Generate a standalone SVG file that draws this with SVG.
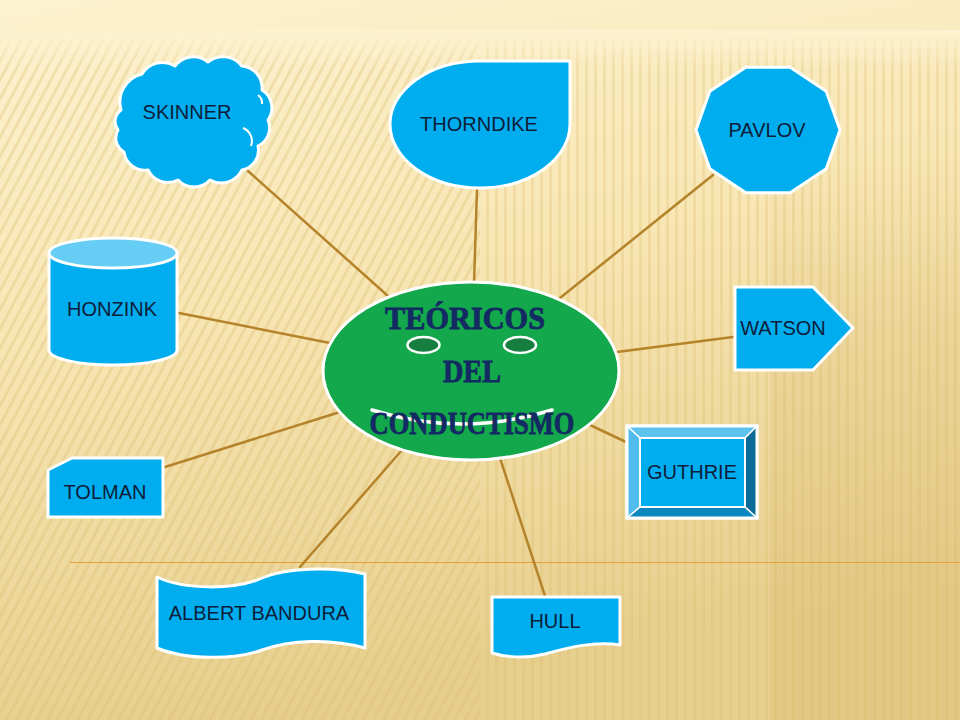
<svg xmlns="http://www.w3.org/2000/svg" width="960" height="720" viewBox="0 0 960 720">
<defs>
<linearGradient id="bg" x1="0" y1="0" x2="0.25" y2="1">
<stop offset="0" stop-color="#FDF2D0"/>
<stop offset="0.45" stop-color="#F8E6B4"/>
<stop offset="1" stop-color="#E6CE8C"/>
</linearGradient>
<pattern id="stripesL" width="9" height="9" patternUnits="userSpaceOnUse" patternTransform="rotate(28)">
<rect x="0" y="0" width="3" height="9" fill="#D9B96A" opacity="0.3"/>
</pattern>
<pattern id="stripesR" width="9" height="9" patternUnits="userSpaceOnUse">
<rect x="0" y="0" width="3" height="9" fill="#D9B96A" opacity="0.28"/>
</pattern>
<linearGradient id="fadeTop" x1="0" y1="0" x2="0" y2="1">
<stop offset="0" stop-color="#FDF2D0" stop-opacity="1"/>
<stop offset="1" stop-color="#FDF2D0" stop-opacity="0"/>
</linearGradient>
<linearGradient id="shade" x1="0" y1="0" x2="0" y2="1">
<stop offset="0" stop-color="#C9A552" stop-opacity="0"/>
<stop offset="0.3" stop-color="#C9A552" stop-opacity="0.14"/>
<stop offset="1" stop-color="#C9A552" stop-opacity="0.14"/>
</linearGradient>
<style>
.node{fill:#00AEEF;stroke:#FFFFFF;stroke-width:3;stroke-linejoin:round}
.lbl{font-family:"Liberation Sans",Arial,sans-serif;font-size:20px;fill:#0E1D3A;text-anchor:middle}
.conn{stroke:#B5832A;stroke-width:2.5;fill:none;stroke-linecap:round}
.title{font-family:"Liberation Serif","DejaVu Serif",serif;font-weight:bold;font-size:31px;fill:#142A63;stroke:#142A63;stroke-width:0.8;text-anchor:middle}
</style>
</defs>
<!-- background -->
<rect x="0" y="0" width="960" height="720" fill="url(#bg)"/>
<rect x="0" y="38" width="480" height="682" fill="url(#stripesL)"/>
<rect x="480" y="38" width="480" height="682" fill="url(#stripesR)"/>
<rect x="0" y="30" width="960" height="40" fill="url(#fadeTop)"/>
<rect x="770" y="150" width="190" height="570" fill="url(#shade)"/>
<line x1="70" y1="562.5" x2="960" y2="562.5" stroke="#E6A23A" stroke-width="1"/>

<g id="connectors">
<line class="conn" x1="248" y1="171" x2="388" y2="296"/>
<line class="conn" x1="477" y1="190" x2="474" y2="283"/>
<line class="conn" x1="713" y1="175" x2="560" y2="298"/>
<line class="conn" x1="733" y1="337" x2="617" y2="352"/>
<line class="conn" x1="626" y1="442" x2="590" y2="425"/>
<line class="conn" x1="545" y1="596" x2="500" y2="458"/>
<line class="conn" x1="300" y1="567" x2="402" y2="450"/>
<line class="conn" x1="165" y1="467" x2="340" y2="412"/>
<line class="conn" x1="179" y1="313" x2="330" y2="343"/>
</g>

<g id="center">
<ellipse cx="471" cy="371" rx="148" ry="89" fill="#12A84B" stroke="#FFFFFF" stroke-width="3"/>
<ellipse cx="423.5" cy="345" rx="16" ry="8" fill="#167E3E" stroke="#FFFFFF" stroke-width="2.5"/>
<ellipse cx="520" cy="345" rx="16" ry="8" fill="#167E3E" stroke="#FFFFFF" stroke-width="2.5"/>
<path d="M372,410 Q462,438 552,410" fill="none" stroke="#FFFFFF" stroke-width="3.5" stroke-linecap="round"/>
<text class="title" x="465" y="329" textLength="160" lengthAdjust="spacingAndGlyphs">TEÓRICOS</text>
<text class="title" x="472" y="382" textLength="58" lengthAdjust="spacingAndGlyphs">DEL</text>
<text class="title" x="472" y="434" textLength="205" lengthAdjust="spacingAndGlyphs">CONDUCTISMO</text>
</g>

<g id="skinner">
<path class="node" d="M121,110 A29,29 0 0 1 142,74 A24,24 0 0 1 175,66 A23,23 0 0 1 208,62 A24,24 0 0 1 242,66 A22,22 0 0 1 262,90 A21,21 0 0 1 268,120 A20,20 0 0 1 258,146 A20,20 0 0 1 242,170 A23,23 0 0 1 210,180 A22,22 0 0 1 178,180 A22,22 0 0 1 148,170 A21,21 0 0 1 124,152 A16,16 0 0 1 118,130 A14,14 0 0 1 121,110 Z"/>
<path d="M243,128 A14,14 0 0 1 251,146" fill="none" stroke="#FFFFFF" stroke-width="2"/>
<path d="M258,95 A10,10 0 0 1 262,104" fill="none" stroke="#FFFFFF" stroke-width="2"/>
<text class="lbl" x="187" y="119">SKINNER</text>
</g>

<g id="thorndike">
<path class="node" d="M570,61 L570,124 A90,64 0 0 1 480,188 A90,64 0 0 1 390,124 A90,63 0 0 1 480,61 Z"/>
<text class="lbl" x="479" y="131">THORNDIKE</text>
</g>

<g id="pavlov">
<polygon class="node" points="840,130 826.2,168.8 790.2,192.8 745.8,192.8 709.8,168.8 696,130 709.8,91.2 745.8,67.2 790.2,67.2 826.2,91.2"/>
<text class="lbl" x="767" y="137">PAVLOV</text>
</g>

<g id="watson">
<polygon class="node" points="735,287 813,287 853,328 813,370 735,370"/>
<text class="lbl" x="783" y="335">WATSON</text>
</g>

<g id="guthrie">
<rect x="627" y="426" width="130" height="92" fill="#00AEEF" stroke="#FFFFFF" stroke-width="3"/>
<polygon points="627,426 757,426 745,438 640,438" fill="#5BC3EE" stroke="#FFFFFF" stroke-width="1.5"/>
<polygon points="627,426 640,438 640,507 627,518" fill="#4FBCEB" stroke="#FFFFFF" stroke-width="1.5"/>
<polygon points="757,426 757,518 745,507 745,438" fill="#0A6A98" stroke="#FFFFFF" stroke-width="1.5"/>
<polygon points="627,518 640,507 745,507 757,518" fill="#0C86BE" stroke="#FFFFFF" stroke-width="1.5"/>
<rect x="640" y="438" width="105" height="69" fill="#00AEEF" stroke="#FFFFFF" stroke-width="2"/>
<rect x="627" y="426" width="130" height="92" fill="none" stroke="#FFFFFF" stroke-width="3"/>
<text class="lbl" x="692" y="479">GUTHRIE</text>
</g>

<g id="hull">
<path class="node" d="M492,597 L620,597 L620,645 C595,641 570,647 545,654 C525,659 505,657 492,653 Z"/>
<text class="lbl" x="555" y="628">HULL</text>
</g>

<g id="bandura">
<path class="node" d="M157,577 C185,590 235,590 262,578 C285,568 330,566 365,574 L365,648 C330,638 290,640 262,650 C235,660 185,660 157,648 Z"/>
<text class="lbl" x="259" y="620">ALBERT BANDURA</text>
</g>

<g id="tolman">
<path class="node" d="M72,458 L163,458 L163,517 L48,517 L48,470 Z"/>
<text class="lbl" x="105" y="499">TOLMAN</text>
</g>

<g id="honzink">
<path class="node" d="M49,253 L49,350 A64,15 0 0 0 177,350 L177,253 Z"/>
<ellipse cx="113" cy="253" rx="64" ry="15" fill="#66CDF5" stroke="#FFFFFF" stroke-width="3"/>
<text class="lbl" x="112" y="316">HONZINK</text>
</g>
</svg>
